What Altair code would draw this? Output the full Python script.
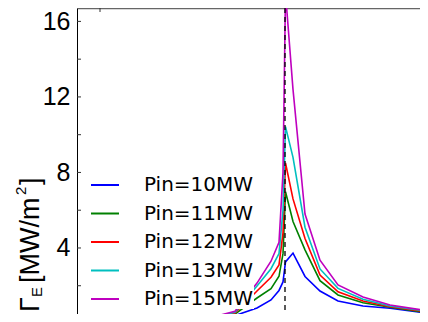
import altair as alt
import pandas as pd

# x position relative to the separatrix (dashed line at 0)
x_pos = [-20.8, -13.5, -7.5, -5.0, -2.8, -1.4, -0.6, -0.2, 0.05, 0.8, 2.0, 3.5, 5.3, 7.8, 10.5, 14.3, 16.0]
p10 = [0.17, 0.19, 0.24, 0.42, 0.82, 1.25, 1.75, 2.20, 3.26, 3.73, 2.49, 1.72, 1.19, 0.93, 0.81, 0.54, 0.50]
p11 = [0.18, 0.20, 0.26, 0.50, 1.35, 1.85, 2.50, 3.70, 6.98, 5.40, 3.90, 2.27, 1.51, 1.10, 0.86, 0.57, 0.52]
p12 = [0.19, 0.21, 0.27, 0.55, 1.72, 2.45, 3.10, 4.80, 8.50, 6.60, 4.50, 2.57, 1.68, 1.19, 0.89, 0.61, 0.55]
p13 = [0.20, 0.22, 0.28, 0.60, 1.99, 2.90, 3.70, 6.00, 10.43, 8.80, 5.10, 2.89, 1.86, 1.28, 0.93, 0.64, 0.58]
p15 = [0.21, 0.23, 0.30, 0.65, 2.14, 3.30, 4.30, 8.00, 17.50, 12.40, 5.80, 3.35, 2.04, 1.40, 0.98, 0.67, 0.60]

series_names = ["Pin=10MW", "Pin=11MW", "Pin=12MW", "Pin=13MW", "Pin=15MW"]
series_vals = [p10, p11, p12, p13, p15]
colors = ["#0000ff", "#008000", "#ff0000", "#00bfbf", "#bf00bf"]

y_major = [4, 8, 12, 16]
y_minor = [2, 6, 10, 14]
sep_x = [0.0]
top_tick_x = [-18.5]

rows = []
for name, vals in zip(series_names, series_vals):
    for i, (x, v) in enumerate(zip(x_pos, vals)):
        rows.append({"x": x, "v": v, "s": name, "o": i})
df = pd.DataFrame(rows)

W, H = 343, 306
xs = alt.Scale(domain=[-20.8, 13.5], nice=False, zero=False)
ys = alt.Scale(domain=[0.503, 16.71], nice=False, zero=False)

lines = alt.Chart(df).mark_line(strokeWidth=1.6, clip=True).encode(
    x=alt.X("x:Q", scale=xs, axis=alt.Axis(orient="top", labels=False, ticks=False, grid=False,
                                           title=None, domainColor="#666666", domainWidth=1.5)),
    y=alt.Y("v:Q", scale=ys, axis=alt.Axis(values=y_major, ticks=False, grid=False, title=None,
                                           labelFont="Liberation Sans", labelFontSize=25,
                                           labelColor="black", labelPadding=7,
                                           domainColor="black", domainWidth=1)),
    color=alt.Color("s:N", scale=alt.Scale(domain=series_names, range=colors),
                    legend=alt.Legend(orient="none", legendX=17, legendY=166, title=None,
                                      fillColor="white", padding=0,
                                      symbolType="M-1.4,0H1.4", symbolSize=400,
                                      symbolStrokeWidth=2, labelFont="DejaVu Sans",
                                      labelFontSize=20, labelColor="black",
                                      labelOffset=28, rowPadding=7.5)),
    order="o:Q",
)

ticks_df = pd.DataFrame({"y": y_major + y_minor})
yticks = alt.Chart(ticks_df).mark_rule(color="#333333", strokeWidth=1).encode(
    y=alt.Y("y:Q", scale=ys), x=alt.value(0), x2=alt.value(4))

ttick = alt.Chart(pd.DataFrame({"x": top_tick_x})).mark_rule(color="#333333").encode(
    x=alt.X("x:Q", scale=xs), y=alt.value(0), y2=alt.value(4))

sep = alt.Chart(pd.DataFrame({"x": sep_x})).mark_rule(
    color="black", strokeWidth=1.3, strokeDash=[5, 4]).encode(
    x=alt.X("x:Q", scale=xs), y=alt.value(0), y2=alt.value(H))


def title_piece(txt, x, y, size):
    return alt.Chart(pd.DataFrame({"t": [txt]})).mark_text(
        angle=270, align="left", baseline="alphabetic", font="Liberation Sans",
        fontSize=size, color="black").encode(text="t:N", x=alt.value(x), y=alt.value(y))


t1 = title_piece("Γ", -38, 304, 27)
t2 = title_piece("E", -35, 289, 15)
t3 = title_piece("[MW/m", -38, 275, 27)
t4 = title_piece("2", -51, 187, 15)
t5 = title_piece("]", -38, 177, 27)

chart = alt.layer(lines, sep, yticks, ttick, t1, t2, t3, t4, t5).properties(
    width=W, height=H,
    padding={"left": 69, "top": 0, "right": 0, "bottom": 0},
    autosize=alt.AutoSizeParams(type="none"),
).configure_view(stroke=None)

chart.save("out.html", embed_options={"renderer": "svg", "actions": False})
